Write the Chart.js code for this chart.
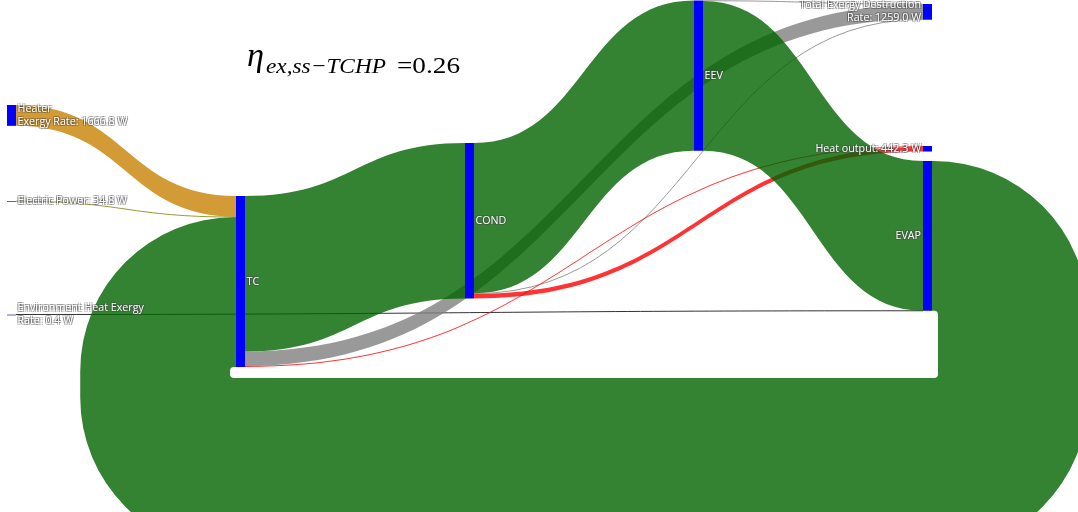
<!DOCTYPE html>
<html>
<head>
<meta charset="utf-8">
<script src="https://cdn.jsdelivr.net/npm/chart.js@4.4.1/dist/chart.umd.min.js"></script>
<style>
  html, body { margin: 0; padding: 0; background: #ffffff; }
  #wrap { width: 1078px; height: 512px; position: relative; }
</style>
</head>
<body>
<div id="wrap"><canvas id="chart"></canvas></div>
<script>
// Exergy flow of the thermally driven heat pump (values in W)
const nodeNames = ['Heater', 'Electric Power', 'Environment Heat Exergy', 'TC', 'COND', 'EEV', 'EVAP',
                   'Total Exergy Destruction', 'Heat output'];
const nodeLabels = [
  ['Heater', 'Exergy Rate: 1666.8 W'],
  ['Electric Power: 34.8 W'],
  ['Environment Heat Exergy', 'Rate: 0.4 W'],
  ['TC'],
  ['COND'],
  ['EEV'],
  ['EVAP'],
  ['Total Exergy Destruction', 'Rate: 1259.0 W'],
  ['Heat output: 442.3 W']
];

// Links: source index, target index, flow (W)
const linkSource = [0, 1, 5, 3, 3, 3, 4, 4, 4, 5, 2, 6];
const linkTarget = [3, 3, 7, 4, 7, 8, 5, 7, 8, 6, 6, 3];
const linkValue  = [1666.8, 34.8, 39.0, 12440, 1160.0, 82.3, 12020, 60.0, 360.0, 11981, 0.4, 11981.4];

const linkColors = [
  'rgba(200,130,2,0.8)',   // Heater -> TC
  'rgba(128,128,0,0.8)',   // Electric Power -> TC
  'rgba(128,128,128,0.8)', // EEV -> destruction
  'rgba(0,100,0,0.8)',     // TC -> COND
  'rgba(128,128,128,0.8)', // TC -> destruction
  'rgba(255,0,0,0.8)',     // TC -> heat output
  'rgba(0,100,0,0.8)',     // COND -> EEV
  'rgba(128,128,128,0.8)', // COND -> destruction
  'rgba(255,0,0,0.8)',     // COND -> heat output
  'rgba(0,100,0,0.8)',     // EEV -> EVAP
  'rgba(0,0,0,0.8)',       // Environment -> EVAP
  'rgba(0,100,0,0.8)'      // EVAP -> TC (return loop)
];

// Placement: column of each node and the flow level (W) of its top edge
const nodeColumn = [0, 0, 0, 1, 2, 3, 4, 4, 4];
const nodeTop = [8400, 16080, 25160, 15680, 11440, 40, 12880, 320, 11680];
// Painting order: thin gray/red flows sit under the green main cycle
const drawOrder = [10, 2, 4, 7, 5, 8, 0, 1, 3, 6, 9, 11];

function drawLabel(ctx, lines, x, yc, align) {
  ctx.font = '10.7px "Open Sans"';
  ctx.textAlign = align;
  ctx.textBaseline = 'middle';
  const lh = 13;
  lines.forEach((t, k) => {
    const y = yc + (k - (lines.length - 1) / 2) * lh;
    ctx.fillStyle = 'rgba(70,70,70,0.45)';
    [[-1, -1], [1, -1], [-1, 1], [1, 1]].forEach(([dx, dy]) => ctx.fillText(t, x + dx, y + dy));
    ctx.fillStyle = '#ffffff';
    ctx.fillText(t, x, y);
  });
}

function bandPath(ctx, x0, s0, s1, x1, t0, t1) {
  const xm = (x0 + x1) / 2;
  ctx.beginPath();
  ctx.moveTo(x0, s0);
  ctx.bezierCurveTo(xm, s0, xm, t0, x1, t0);
  ctx.lineTo(x1, t1);
  ctx.bezierCurveTo(xm, t1, xm, s1, x0, s1);
  ctx.closePath();
}

// Return flow drawn below the diagram: out of the right side of the source,
// down, back along the bottom and up into the left side of the target.
function loopPath(ctx, sx, s0, s1, tx, t0, t1, B, r, gap, Rb, extra) {
  const W = s1 - s0, R = r + W;
  const cxR = sx + gap, cxL = tx - gap;
  const Bo = B + W + extra;
  ctx.beginPath();
  ctx.moveTo(sx, s0);
  ctx.lineTo(cxR, s0);
  ctx.arc(cxR, s1 + r, R, -Math.PI / 2, 0);
  ctx.lineTo(cxR + R, Bo - Rb);
  ctx.arc(cxR + R - Rb, Bo - Rb, Rb, 0, Math.PI / 2);
  ctx.lineTo(cxL - R + Rb, Bo);
  ctx.arc(cxL - R + Rb, Bo - Rb, Rb, Math.PI / 2, Math.PI);
  ctx.lineTo(cxL - R, t1 + r);
  ctx.arc(cxL, t1 + r, R, Math.PI, 1.5 * Math.PI);
  ctx.lineTo(tx, t0);
  ctx.lineTo(tx, t1);
  ctx.lineTo(cxL, t1);
  ctx.arc(cxL, t1 + r, r, 1.5 * Math.PI, Math.PI, true);
  ctx.lineTo(cxL - r, B - r);
  ctx.arc(cxL, B - r, r, Math.PI, Math.PI / 2, true);
  ctx.lineTo(cxR, B);
  ctx.arc(cxR, B - r, r, Math.PI / 2, 0, true);
  ctx.lineTo(cxR + r, s1 + r);
  ctx.arc(cxR, s1 + r, r, 0, -Math.PI / 2, true);
  ctx.lineTo(sx, s1);
  ctx.closePath();
}

const sankeyPlugin = {
  id: 'sankeyFlow',
  afterDatasetsDraw(chart, args, opts) {
    const ctx = chart.ctx;
    const xs = chart.scales.x, ys = chart.scales.y;
    const n = nodeNames.length;
    const inSum = new Array(n).fill(0), outSum = new Array(n).fill(0);
    linkValue.forEach((v, i) => { outSum[linkSource[i]] += v; inSum[linkTarget[i]] += v; });
    const size = nodeNames.map((_, i) => Math.max(inSum[i], outSum[i]));
    const X0 = i => xs.getPixelForValue(nodeColumn[i]);
    const X1 = i => X0(i) + opts.nodeWidth;
    const Y = v => ys.getPixelForValue(v);

    const inOff = nodeTop.slice(), outOff = nodeTop.slice();
    const geo = linkValue.map((v, i) => {
      const s = linkSource[i], t = linkTarget[i];
      const g = { s0: Y(outOff[s]), s1: Y(outOff[s] + v), t0: Y(inOff[t]), t1: Y(inOff[t] + v) };
      outOff[s] += v; inOff[t] += v;
      return g;
    });
    let maxBottom = 0;
    for (let i = 0; i < n; i++) maxBottom = Math.max(maxBottom, Y(nodeTop[i] + size[i]));

    ctx.save();
    drawOrder.forEach(i => {
      const s = linkSource[i], t = linkTarget[i], g = geo[i];
      ctx.fillStyle = linkColors[i];
      ctx.strokeStyle = linkColors[i];
      if (nodeColumn[s] >= nodeColumn[t]) {
        loopPath(ctx, X1(s), g.s0, g.s1, X0(t), g.t0, g.t1, maxBottom + opts.loopMargin,
                 opts.loopRadius, 2, opts.cornerRadius, opts.bottomExtra);
        ctx.fill();
        return;
      }
      if (g.s1 - g.s0 < 1) {
        const x0 = X1(s), x1 = X0(t), xm = (x0 + x1) / 2;
        const sm = (g.s0 + g.s1) / 2, tm = (g.t0 + g.t1) / 2;
        ctx.lineWidth = 1;
        ctx.beginPath();
        ctx.moveTo(x0, sm);
        ctx.bezierCurveTo(xm, sm, xm, tm, x1, tm);
        ctx.stroke();
      } else {
        bandPath(ctx, X1(s), g.s0, g.s1, X0(t), g.t0, g.t1);
        ctx.fill();
      }
    });

    // nodes
    for (let i = 0; i < n; i++) {
      const y0 = Y(nodeTop[i]);
      const h = Math.max(Y(nodeTop[i] + size[i]) - y0, 1);
      ctx.fillStyle = h < 2 ? 'rgba(60,60,150,0.8)' : '#0000ff';
      ctx.fillRect(X0(i), y0, opts.nodeWidth, h);
    }

    // node labels
    for (let i = 0; i < n; i++) {
      const yc = (Y(nodeTop[i]) + Y(nodeTop[i] + size[i])) / 2;
      if (nodeColumn[i] === 4) drawLabel(ctx, nodeLabels[i], X0(i) - 2, yc, 'right');
      else drawLabel(ctx, nodeLabels[i], X1(i) + 1.5, yc, 'left');
    }
    ctx.restore();
  },
  afterDraw(chart) {
    // efficiency annotation
    const ctx = chart.ctx;
    ctx.save();
    ctx.fillStyle = '#000000';
    ctx.textAlign = 'left';
    ctx.textBaseline = 'alphabetic';
    const put = (text, font, x, y, w) => {
      ctx.font = font;
      const m = ctx.measureText(text).width;
      ctx.save();
      ctx.translate(x, y);
      ctx.scale(w / m, 1);
      ctx.fillText(text, 0, 0);
      ctx.restore();
    };
    put('\u03B7', 'italic 34px "Liberation Serif"', 247, 66, 17);
    put('ex,ss\u2212TCHP', 'italic 22px "Liberation Serif"', 266, 73, 120);
    put('=0.26', '23px "Liberation Serif"', 397, 73, 63);
    ctx.restore();
  }
};

new Chart(document.getElementById('chart'), {
  type: 'scatter',
  data: { datasets: [] },
  options: {
    responsive: true,
    maintainAspectRatio: false,
    animation: false,
    events: [],
    layout: { padding: 0 },
    plugins: {
      legend: { display: false },
      tooltip: { enabled: false },
      sankeyFlow: { nodeWidth: 9, loopMargin: 11, loopRadius: 4, cornerRadius: 154, bottomExtra: 24 }
    },
    scales: {
      x: { type: 'linear', display: false, min: -7 / 229, max: (1078 - 7) / 229 },
      y: { type: 'linear', display: false, reverse: true, min: 0, max: 40960 }
    }
  },
  plugins: [sankeyPlugin]
});
</script>
</body>
</html>
